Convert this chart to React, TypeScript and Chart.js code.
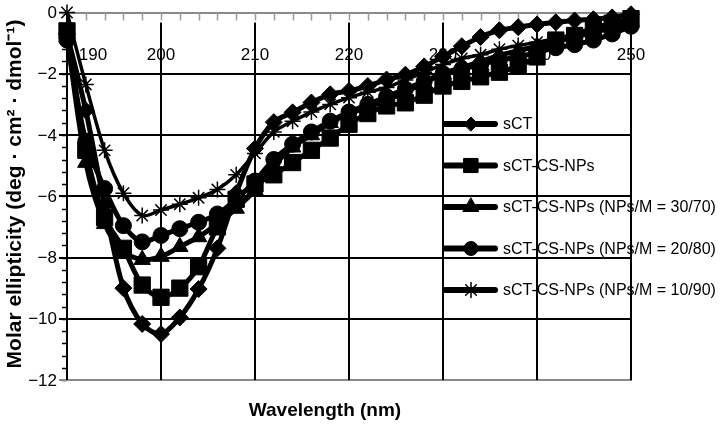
import React, { useEffect, useRef } from 'react';
import { Chart, registerables } from 'chart.js';
import { drawPoint } from 'chart.js/helpers';

Chart.register(...registerables);

// ---- data ----
const wavelengths = [190, 192, 194, 196, 198, 200, 202, 204, 206, 208, 210, 212, 214, 216, 218, 220, 222, 224, 226, 228, 230, 232, 234, 236, 238, 240, 242, 244, 246, 248, 250];

const sCT = [-0.7, -3.2, -6.3, -9.0, -10.17, -10.5, -9.96, -9.03, -7.7, -5.9, -4.44, -3.58, -3.26, -2.94, -2.67, -2.56, -2.4, -2.19, -2.03, -1.76, -1.44, -1.1, -0.8, -0.58, -0.48, -0.39, -0.32, -0.26, -0.22, -0.16, -0.06];
const sCT_CS_NPs = [-0.6, -4.5, -6.7, -7.7, -8.9, -9.3, -9.0, -8.3, -7.0, -6.1, -5.6, -5.3, -4.9, -4.5, -4.1, -3.65, -3.3, -3.05, -2.95, -2.7, -2.4, -2.25, -2.1, -1.95, -1.75, -1.45, -0.9, -0.75, -0.5, -0.35, -0.2];
const np30_70 = [-0.8, -4.9, -6.9, -7.8, -8.07, -7.97, -7.65, -7.33, -6.9, -6.4, -5.8, -5.0, -4.4, -4.0, -3.6, -3.3, -3.1, -2.85, -2.6, -2.3, -2.0, -1.8, -1.6, -1.4, -1.25, -1.1, -0.95, -0.8, -0.65, -0.5, -0.35];
const np20_80 = [-0.9, -4.2, -5.75, -6.96, -7.49, -7.28, -7.06, -6.85, -6.58, -6.1, -5.5, -4.8, -4.3, -3.9, -3.55, -3.25, -3.0, -2.75, -2.5, -2.25, -2.0, -1.85, -1.7, -1.55, -1.45, -1.3, -1.15, -1.05, -0.9, -0.7, -0.45];
const np10_90 = [0, -2.35, -4.5, -5.9, -6.63, -6.45, -6.26, -6.05, -5.78, -5.3, -4.6, -3.9, -3.55, -3.25, -3.0, -2.78, -2.6, -2.45, -2.2, -1.95, -1.7, -1.5, -1.38, -1.2, -1.08, -0.97, -0.85, -0.72, -0.58, -0.45, -0.32];

const seriesLabels = [
  'sCT',
  'sCT-CS-NPs',
  'sCT-CS-NPs (NPs/M = 30/70)',
  'sCT-CS-NPs (NPs/M = 20/80)',
  'sCT-CS-NPs (NPs/M = 10/90)',
];

const xTickLabels = [190, 200, 210, 220, 230, 240, 250];
const yTickLabels = [0, -2, -4, -6, -8, -10, -12];
const xTitle = 'Wavelength (nm)';
const yTitle = 'Molar ellipticity (deg · cm² · dmol⁻¹)';

const FONT = '"Liberation Sans", Arial, Helvetica, sans-serif';

const styles = [
  { pointStyle: 'rectRot', radius: 8.5, lineWidth: 5, pbw: 1, legendR: 7 },
  { pointStyle: 'rect', radius: 11.5, lineWidth: 5, pbw: 1, legendR: 10 },
  { pointStyle: 'triangle', radius: 9.5, lineWidth: 5, pbw: 1, legendR: 9 },
  { pointStyle: 'circle', radius: 8, lineWidth: 5, pbw: 1, legendR: 7 },
  { pointStyle: 'star', radius: 8, lineWidth: 3.5, pbw: 1.5, legendR: 7.5 },
];

const seriesValues = [sCT, sCT_CS_NPs, np30_70, np20_80, np10_90];

function line(ctx: CanvasRenderingContext2D, x1: number, y1: number, x2: number, y2: number) {
  ctx.beginPath();
  ctx.moveTo(x1, y1);
  ctx.lineTo(x2, y2);
  ctx.stroke();
}

const framePlugin = {
  id: 'frame',
  beforeDatasetsDraw(chart: any) {
    const ctx: CanvasRenderingContext2D = chart.ctx;
    const xs = chart.scales.x;
    const ys = chart.scales.y;
    const L = xs.getPixelForValue(190);
    const R = xs.getPixelForValue(250);
    const T = ys.getPixelForValue(0);
    const B = ys.getPixelForValue(-12);
    ctx.save();
    ctx.lineCap = 'butt';

    // minor y ticks
    ctx.strokeStyle = '#000';
    ctx.lineWidth = 1.5;
    for (let i = 0; i <= 30; i++) {
      const py = Math.round(ys.getPixelForValue(-0.4 * i)) + 0.5;
      line(ctx, L - 5, py, L, py);
    }
    // horizontal grid lines
    yTickLabels.forEach((v) => {
      const py = Math.round(ys.getPixelForValue(v));
      ctx.strokeStyle = v === 0 || v === -12 ? '#8a8a8a' : '#000';
      ctx.lineWidth = 2;
      line(ctx, L - 8, py, R + 1, py);
    });
    // vertical grid lines
    ctx.strokeStyle = '#000';
    ctx.lineWidth = 2;
    xTickLabels.forEach((v) => {
      if (v === 190) return;
      const px = Math.round(xs.getPixelForValue(v));
      line(ctx, px, T + 10, px, B);
    });
    // y axis line
    line(ctx, Math.round(L), T, Math.round(L), B);
    // top minor ticks
    ctx.strokeStyle = '#9a9a9a';
    ctx.lineWidth = 1.5;
    for (let nm = 192; nm <= 250; nm += 2) {
      const px = Math.round(xs.getPixelForValue(nm)) + 0.5;
      line(ctx, px, T, px, T + 8);
    }

    // tick labels
    ctx.fillStyle = '#000';
    ctx.font = `17px ${FONT}`;
    ctx.textBaseline = 'middle';
    ctx.textAlign = 'right';
    yTickLabels.forEach((v) => {
      const py = ys.getPixelForValue(v);
      ctx.fillText(v === 0 ? '0' : '−' + Math.abs(v), L - 10, py + 1);
    });
    ctx.textAlign = 'center';
    xTickLabels.forEach((v, i) => {
      const px = xs.getPixelForValue(v) + (i === 0 ? 26 : 0);
      ctx.fillText(String(v), px, T + 43);
    });
    ctx.restore();
  },
  afterDraw(chart: any) {
    const ctx: CanvasRenderingContext2D = chart.ctx;
    const xs = chart.scales.x;
    ctx.save();
    // legend
    const lx0 = xs.getPixelForValue(230);
    seriesLabels.forEach((label, i) => {
      const cy = 124 + i * 41.5;
      ctx.strokeStyle = '#000';
      ctx.lineWidth = 6;
      ctx.lineCap = 'round';
      line(ctx, lx0 + 2, cy, lx0 + 52, cy);
      const st = styles[i];
      ctx.fillStyle = '#000';
      ctx.strokeStyle = '#000';
      ctx.lineWidth = st.pbw;
      drawPoint(ctx, { pointStyle: st.pointStyle as any, radius: st.legendR, rotation: 0, borderWidth: st.pbw }, lx0 + 28, cy);
      ctx.fillStyle = '#000';
      ctx.font = `16px ${FONT}`;
      ctx.textAlign = 'left';
      ctx.textBaseline = 'middle';
      ctx.fillText(label, lx0 + 60, cy + 1);
    });
    // titles
    ctx.fillStyle = '#000';
    ctx.textAlign = 'center';
    ctx.textBaseline = 'middle';
    ctx.font = `bold 19px ${FONT}`;
    ctx.fillText(xTitle, 325, 411);
    ctx.font = `bold 21px ${FONT}`;
    ctx.translate(15, 194);
    ctx.rotate(-Math.PI / 2);
    ctx.fillText(yTitle, 0, 0);
    ctx.restore();
  },
};

export default function App() {
  const ref = useRef<HTMLCanvasElement | null>(null);
  useEffect(() => {
    document.body.style.margin = '0';
    const canvas = ref.current;
    if (!canvas) return;
    const datasets = seriesValues.map((vals, i) => ({
      label: seriesLabels[i],
      data: wavelengths.map((w, j) => ({ x: w, y: vals[j] })),
      borderColor: '#000',
      backgroundColor: '#000',
      borderWidth: styles[i].lineWidth,
      pointStyle: styles[i].pointStyle as any,
      pointRadius: styles[i].radius,
      pointBorderWidth: styles[i].pbw,
      pointBackgroundColor: '#000',
      pointBorderColor: '#000',
      tension: 0.3,
      clip: false as any,
    }));
    const chart = new Chart(canvas, {
      type: 'line',
      data: { datasets },
      options: {
        animation: false,
        responsive: false,
        devicePixelRatio: 1,
        layout: { padding: { left: 67, right: 94, top: 7, bottom: 49 } },
        plugins: { legend: { display: false }, tooltip: { enabled: false } },
        scales: {
          x: { type: 'linear', min: 190, max: 250, display: false },
          y: { type: 'linear', min: -12, max: 0, display: false },
        },
      },
      plugins: [framePlugin],
    });
    return () => chart.destroy();
  }, []);
  return (
    <canvas
      ref={ref}
      width={725}
      height={429}
      style={{ position: 'absolute', left: 0, top: 0, width: 725, height: 429 }}
    />
  );
}
